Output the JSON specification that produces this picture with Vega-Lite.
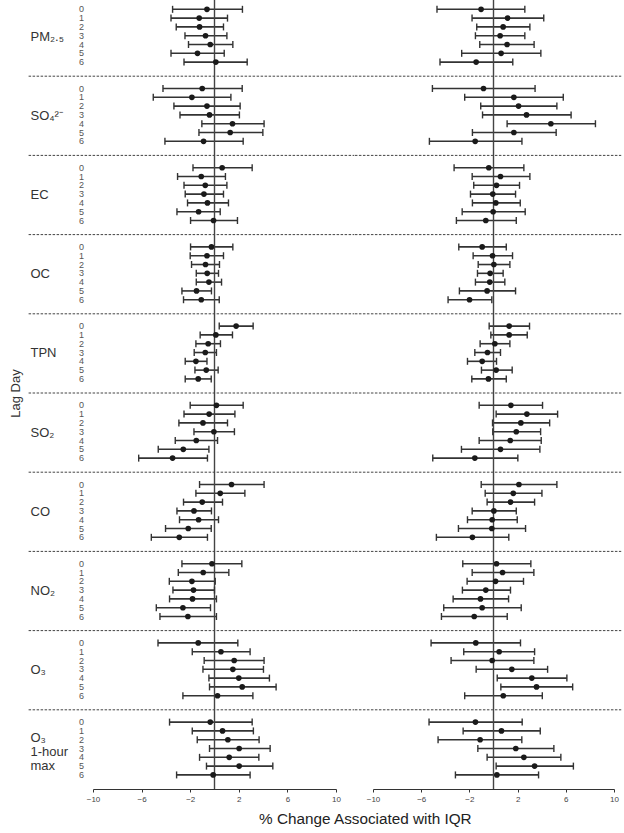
{
  "$schema": "https://vega.github.io/schema/vega-lite/v6.json",
  "padding": {"left": 9, "top": -4, "right": 0, "bottom": 0},
  "bounds": "flush",
  "spacing": 37,
  "config": {
    "font": "Liberation Sans",
    "view": {"stroke": null},
    "axis": {"grid": false},
    "axisX": {"labelOverlap": false, "labelFlush": false, "labelSeparation": -12}
  },
  "title": {"text": "% Change Associated with IQR", "orient": "bottom", "anchor": "middle", "fontSize": 15.3, "fontWeight": "normal", "color": "#222", "offset": 9, "dx": 50},
  "datasets": {
    "seps": [
      {"p": "PM₂.₅"}, {"p": "SO₄²⁻"}, {"p": "EC"}, {"p": "OC"}, {"p": "TPN"},
      {"p": "SO₂"}, {"p": "CO"}, {"p": "NO₂"}, {"p": "O₃"}
    ],
    "a": [
      {"p": "PM₂.₅", "lag": 0, "est": -0.62, "lo": -3.45, "hi": 2.30},
      {"p": "PM₂.₅", "lag": 1, "est": -1.26, "lo": -3.58, "hi": 1.07},
      {"p": "PM₂.₅", "lag": 2, "est": -1.23, "lo": -3.15, "hi": 0.74},
      {"p": "PM₂.₅", "lag": 3, "est": -0.74, "lo": -2.43, "hi": 1.02},
      {"p": "PM₂.₅", "lag": 4, "est": -0.35, "lo": -2.14, "hi": 1.51},
      {"p": "PM₂.₅", "lag": 5, "est": -1.40, "lo": -3.58, "hi": 0.80},
      {"p": "PM₂.₅", "lag": 6, "est": 0.11, "lo": -2.51, "hi": 2.69},
      {"p": "SO₄²⁻", "lag": 0, "est": -1.01, "lo": -4.24, "hi": 2.28},
      {"p": "SO₄²⁻", "lag": 1, "est": -1.86, "lo": -5.04, "hi": 1.35},
      {"p": "SO₄²⁻", "lag": 2, "est": -0.62, "lo": -3.34, "hi": 2.11},
      {"p": "SO₄²⁻", "lag": 3, "est": -0.41, "lo": -2.84, "hi": 2.05},
      {"p": "SO₄²⁻", "lag": 4, "est": 1.48, "lo": -1.04, "hi": 4.08},
      {"p": "SO₄²⁻", "lag": 5, "est": 1.29, "lo": -1.28, "hi": 3.98},
      {"p": "SO₄²⁻", "lag": 6, "est": -0.90, "lo": -4.08, "hi": 2.36},
      {"p": "EC", "lag": 0, "est": 0.63, "lo": -1.77, "hi": 3.10},
      {"p": "EC", "lag": 1, "est": -1.09, "lo": -3.04, "hi": 0.90},
      {"p": "EC", "lag": 2, "est": -0.76, "lo": -2.51, "hi": 1.02},
      {"p": "EC", "lag": 3, "est": -0.87, "lo": -2.41, "hi": 0.74},
      {"p": "EC", "lag": 4, "est": -0.58, "lo": -2.22, "hi": 1.15},
      {"p": "EC", "lag": 5, "est": -1.31, "lo": -3.09, "hi": 0.47},
      {"p": "EC", "lag": 6, "est": -0.08, "lo": -1.97, "hi": 1.89},
      {"p": "OC", "lag": 0, "est": -0.25, "lo": -1.97, "hi": 1.51},
      {"p": "OC", "lag": 1, "est": -0.62, "lo": -2.00, "hi": 0.74},
      {"p": "OC", "lag": 2, "est": -0.74, "lo": -1.89, "hi": 0.41},
      {"p": "OC", "lag": 3, "est": -0.60, "lo": -1.50, "hi": 0.33},
      {"p": "OC", "lag": 4, "est": -0.46, "lo": -1.50, "hi": 0.58},
      {"p": "OC", "lag": 5, "est": -1.48, "lo": -2.68, "hi": -0.25},
      {"p": "OC", "lag": 6, "est": -1.09, "lo": -2.55, "hi": 0.39},
      {"p": "TPN", "lag": 0, "est": 1.78, "lo": 0.39, "hi": 3.18},
      {"p": "TPN", "lag": 1, "est": 0.11, "lo": -1.18, "hi": 1.48},
      {"p": "TPN", "lag": 2, "est": -0.52, "lo": -1.53, "hi": 0.49},
      {"p": "TPN", "lag": 3, "est": -0.76, "lo": -1.67, "hi": 0.16},
      {"p": "TPN", "lag": 4, "est": -1.53, "lo": -2.41, "hi": -0.62},
      {"p": "TPN", "lag": 5, "est": -0.68, "lo": -1.61, "hi": 0.30},
      {"p": "TPN", "lag": 6, "est": -1.34, "lo": -2.41, "hi": -0.27},
      {"p": "SO₂", "lag": 0, "est": 0.16, "lo": -2.00, "hi": 2.36},
      {"p": "SO₂", "lag": 1, "est": -0.44, "lo": -2.51, "hi": 1.68},
      {"p": "SO₂", "lag": 2, "est": -0.95, "lo": -2.93, "hi": 1.07},
      {"p": "SO₂", "lag": 3, "est": -0.05, "lo": -1.69, "hi": 1.64},
      {"p": "SO₂", "lag": 4, "est": -1.50, "lo": -3.23, "hi": 0.25},
      {"p": "SO₂", "lag": 5, "est": -2.57, "lo": -4.63, "hi": -0.46},
      {"p": "SO₂", "lag": 6, "est": -3.45, "lo": -6.24, "hi": -0.58},
      {"p": "CO", "lag": 0, "est": 1.40, "lo": -1.23, "hi": 4.08},
      {"p": "CO", "lag": 1, "est": 0.47, "lo": -1.53, "hi": 2.50},
      {"p": "CO", "lag": 2, "est": -1.01, "lo": -2.55, "hi": 0.66},
      {"p": "CO", "lag": 3, "est": -1.69, "lo": -3.09, "hi": -0.25},
      {"p": "CO", "lag": 4, "est": -1.31, "lo": -2.88, "hi": 0.33},
      {"p": "CO", "lag": 5, "est": -2.16, "lo": -4.03, "hi": -0.27},
      {"p": "CO", "lag": 6, "est": -2.90, "lo": -5.20, "hi": -0.58},
      {"p": "NO₂", "lag": 0, "est": -0.21, "lo": -2.68, "hi": 2.25},
      {"p": "NO₂", "lag": 1, "est": -0.93, "lo": -2.98, "hi": 1.18},
      {"p": "NO₂", "lag": 2, "est": -1.86, "lo": -3.72, "hi": 0.06},
      {"p": "NO₂", "lag": 3, "est": -1.73, "lo": -3.42, "hi": 0.00},
      {"p": "NO₂", "lag": 4, "est": -1.81, "lo": -3.70, "hi": 0.16},
      {"p": "NO₂", "lag": 5, "est": -2.60, "lo": -4.79, "hi": -0.33},
      {"p": "NO₂", "lag": 6, "est": -2.19, "lo": -4.49, "hi": 0.16},
      {"p": "O₃", "lag": 0, "est": -1.34, "lo": -4.65, "hi": 1.92},
      {"p": "O₃", "lag": 1, "est": 0.53, "lo": -1.83, "hi": 2.93},
      {"p": "O₃", "lag": 2, "est": 1.62, "lo": -0.85, "hi": 4.08},
      {"p": "O₃", "lag": 3, "est": 1.51, "lo": -0.95, "hi": 4.03},
      {"p": "O₃", "lag": 4, "est": 2.00, "lo": -0.46, "hi": 4.52},
      {"p": "O₃", "lag": 5, "est": 2.28, "lo": -0.41, "hi": 5.07},
      {"p": "O₃", "lag": 6, "est": 0.25, "lo": -2.60, "hi": 3.16},
      {"p": "O₃ 1-hour max", "lag": 0, "est": -0.35, "lo": -3.70, "hi": 3.10},
      {"p": "O₃ 1-hour max", "lag": 1, "est": 0.66, "lo": -1.83, "hi": 3.20},
      {"p": "O₃ 1-hour max", "lag": 2, "est": 1.10, "lo": -1.42, "hi": 3.67},
      {"p": "O₃ 1-hour max", "lag": 3, "est": 2.03, "lo": -0.41, "hi": 4.58},
      {"p": "O₃ 1-hour max", "lag": 4, "est": 1.21, "lo": -1.23, "hi": 3.65},
      {"p": "O₃ 1-hour max", "lag": 5, "est": 2.03, "lo": -0.66, "hi": 4.80},
      {"p": "O₃ 1-hour max", "lag": 6, "est": -0.11, "lo": -3.12, "hi": 2.93}
    ],
    "b": [
      {"p": "PM₂.₅", "lag": 0, "est": -1.03, "lo": -4.69, "hi": 2.60},
      {"p": "PM₂.₅", "lag": 1, "est": 1.17, "lo": -1.78, "hi": 4.17},
      {"p": "PM₂.₅", "lag": 2, "est": 0.80, "lo": -1.39, "hi": 3.02},
      {"p": "PM₂.₅", "lag": 3, "est": 0.55, "lo": -1.50, "hi": 2.60},
      {"p": "PM₂.₅", "lag": 4, "est": 1.13, "lo": -1.14, "hi": 3.37},
      {"p": "PM₂.₅", "lag": 5, "est": 0.63, "lo": -2.64, "hi": 3.93},
      {"p": "PM₂.₅", "lag": 6, "est": -1.44, "lo": -4.44, "hi": 1.60},
      {"p": "SO₄²⁻", "lag": 0, "est": -0.83, "lo": -5.07, "hi": 3.45},
      {"p": "SO₄²⁻", "lag": 1, "est": 1.69, "lo": -2.39, "hi": 5.79},
      {"p": "SO₄²⁻", "lag": 2, "est": 2.08, "lo": -1.06, "hi": 5.26},
      {"p": "SO₄²⁻", "lag": 3, "est": 2.74, "lo": -0.91, "hi": 6.44},
      {"p": "SO₄²⁻", "lag": 4, "est": 4.76, "lo": 1.13, "hi": 8.46},
      {"p": "SO₄²⁻", "lag": 5, "est": 1.69, "lo": -1.75, "hi": 5.20},
      {"p": "SO₄²⁻", "lag": 6, "est": -1.52, "lo": -5.32, "hi": 2.36},
      {"p": "EC", "lag": 0, "est": -0.39, "lo": -3.27, "hi": 2.52},
      {"p": "EC", "lag": 1, "est": 0.58, "lo": -1.77, "hi": 3.02},
      {"p": "EC", "lag": 2, "est": 0.25, "lo": -1.64, "hi": 2.16},
      {"p": "EC", "lag": 3, "est": -0.06, "lo": -1.91, "hi": 1.83},
      {"p": "EC", "lag": 4, "est": 0.19, "lo": -1.75, "hi": 2.22},
      {"p": "EC", "lag": 5, "est": -0.03, "lo": -2.60, "hi": 2.63},
      {"p": "EC", "lag": 6, "est": -0.64, "lo": -3.08, "hi": 1.89},
      {"p": "OC", "lag": 0, "est": -0.94, "lo": -2.88, "hi": 1.06},
      {"p": "OC", "lag": 1, "est": -0.08, "lo": -1.69, "hi": 1.58},
      {"p": "OC", "lag": 2, "est": 0.03, "lo": -1.27, "hi": 1.36},
      {"p": "OC", "lag": 3, "est": -0.28, "lo": -1.33, "hi": 0.80},
      {"p": "OC", "lag": 4, "est": -0.31, "lo": -1.50, "hi": 0.94},
      {"p": "OC", "lag": 5, "est": -0.53, "lo": -2.83, "hi": 1.83},
      {"p": "OC", "lag": 6, "est": -1.99, "lo": -3.77, "hi": -0.14},
      {"p": "TPN", "lag": 0, "est": 1.30, "lo": -0.36, "hi": 2.99},
      {"p": "TPN", "lag": 1, "est": 1.30, "lo": -0.22, "hi": 2.80},
      {"p": "TPN", "lag": 2, "est": 0.11, "lo": -1.11, "hi": 1.36},
      {"p": "TPN", "lag": 3, "est": -0.50, "lo": -1.55, "hi": 0.58},
      {"p": "TPN", "lag": 4, "est": -0.94, "lo": -2.16, "hi": 0.25},
      {"p": "TPN", "lag": 5, "est": 0.22, "lo": -1.00, "hi": 1.55},
      {"p": "TPN", "lag": 6, "est": -0.42, "lo": -1.80, "hi": 1.06},
      {"p": "SO₂", "lag": 0, "est": 1.44, "lo": -1.19, "hi": 4.07},
      {"p": "SO₂", "lag": 1, "est": 2.77, "lo": 0.22, "hi": 5.32},
      {"p": "SO₂", "lag": 2, "est": 2.27, "lo": -0.08, "hi": 4.66},
      {"p": "SO₂", "lag": 3, "est": 1.89, "lo": -0.06, "hi": 3.91},
      {"p": "SO₂", "lag": 4, "est": 1.39, "lo": -1.19, "hi": 3.96},
      {"p": "SO₂", "lag": 5, "est": 0.58, "lo": -2.66, "hi": 3.85},
      {"p": "SO₂", "lag": 6, "est": -1.55, "lo": -5.04, "hi": 2.02},
      {"p": "CO", "lag": 0, "est": 2.11, "lo": -1.02, "hi": 5.26},
      {"p": "CO", "lag": 1, "est": 1.64, "lo": -0.69, "hi": 4.02},
      {"p": "CO", "lag": 2, "est": 1.41, "lo": -0.53, "hi": 3.41},
      {"p": "CO", "lag": 3, "est": 0.03, "lo": -1.77, "hi": 1.89},
      {"p": "CO", "lag": 4, "est": -0.11, "lo": -2.16, "hi": 1.97},
      {"p": "CO", "lag": 5, "est": -0.14, "lo": -2.91, "hi": 2.66},
      {"p": "CO", "lag": 6, "est": -1.75, "lo": -4.74, "hi": 1.27},
      {"p": "NO₂", "lag": 0, "est": 0.25, "lo": -2.55, "hi": 3.10},
      {"p": "NO₂", "lag": 1, "est": 0.75, "lo": -1.77, "hi": 3.35},
      {"p": "NO₂", "lag": 2, "est": 0.17, "lo": -2.19, "hi": 2.49},
      {"p": "NO₂", "lag": 3, "est": -0.64, "lo": -2.58, "hi": 1.41},
      {"p": "NO₂", "lag": 4, "est": -1.08, "lo": -3.35, "hi": 1.25},
      {"p": "NO₂", "lag": 5, "est": -0.94, "lo": -4.13, "hi": 2.30},
      {"p": "NO₂", "lag": 6, "est": -1.60, "lo": -4.32, "hi": 1.14},
      {"p": "O₃", "lag": 0, "est": -1.47, "lo": -5.18, "hi": 2.24},
      {"p": "O₃", "lag": 1, "est": 0.47, "lo": -2.47, "hi": 3.41},
      {"p": "O₃", "lag": 2, "est": -0.11, "lo": -3.52, "hi": 3.35},
      {"p": "O₃", "lag": 3, "est": 1.52, "lo": -1.44, "hi": 4.49},
      {"p": "O₃", "lag": 4, "est": 3.18, "lo": 0.31, "hi": 6.09},
      {"p": "O₃", "lag": 5, "est": 3.57, "lo": 0.61, "hi": 6.57},
      {"p": "O₃", "lag": 6, "est": 0.81, "lo": -2.39, "hi": 4.05},
      {"p": "O₃ 1-hour max", "lag": 0, "est": -1.50, "lo": -5.35, "hi": 2.38},
      {"p": "O₃ 1-hour max", "lag": 1, "est": 0.66, "lo": -2.52, "hi": 3.88},
      {"p": "O₃ 1-hour max", "lag": 2, "est": -1.11, "lo": -4.60, "hi": 2.35},
      {"p": "O₃ 1-hour max", "lag": 3, "est": 1.85, "lo": -1.30, "hi": 5.01},
      {"p": "O₃ 1-hour max", "lag": 4, "est": 2.52, "lo": -0.53, "hi": 5.59},
      {"p": "O₃ 1-hour max", "lag": 5, "est": 3.41, "lo": 0.22, "hi": 6.63},
      {"p": "O₃ 1-hour max", "lag": 6, "est": 0.28, "lo": -3.16, "hi": 3.74}
    ]
  },
  "hconcat": [
    {
      "width": 243,
      "height": 792,
      "data": {"name": "a"},
      "layer": [
        {
          "mark": {"type": "rule", "strokeWidth": 1.6, "color": "#333"},
          "encoding": {
            "y": {
              "field": "p", "type": "nominal",
              "scale": {"domain": ["PM₂.₅", "SO₄²⁻", "EC", "OC", "TPN", "SO₂", "CO", "NO₂", "O₃", "O₃ 1-hour max"], "paddingInner": 0, "paddingOuter": 0},
              "axis": {
                "title": "Lag Day", "titleFontSize": 13, "titleFontWeight": "normal", "titleColor": "#333", "titlePadding": 8,
                "labelAlign": "left", "labelPadding": 63, "labelFontSize": 13, "labelColor": "#333",
                "labelLineHeight": 14, "labelBound": false, "labelOverlap": false, "labelLimit": 0,
                "labelOffset": {"condition": {"test": "datum.value == 'O₃ 1-hour max'", "value": -11}, "value": 0},
                "labelExpr": "datum.value == 'O₃ 1-hour max' ? ['O₃', '1-hour', 'max'] : datum.value",
                "ticks": false, "domain": false
              }
            },
            "yOffset": {"field": "lag", "type": "ordinal", "scale": {"domain": [0, 1, 2, 3, 4, 5, 6], "paddingInner": 0, "paddingOuter": 1, "align": 0.45}},
            "x": {
              "field": "lo", "type": "quantitative",
              "scale": {"domain": [-10, 10], "nice": false},
              "axis": {"values": [-10, -8, -6, -4, -2, 0, 2, 4, 6, 8, 10], "title": null, "tickSize": 3, "labelFontSize": 8, "labelColor": "#444", "labelPadding": 3, "labelOverlap": false, "labelSeparation": -12, "labelBound": false, "labelFlush": false, "domainColor": "#333", "tickColor": "#333", "domainWidth": 1.2}
            },
            "x2": {"field": "hi"}
          }
        },
        {
          "data": {"name": "seps"},
          "mark": {"type": "rule", "strokeDash": [2.5, 1.5], "strokeWidth": 1, "color": "#444", "clip": false},
          "encoding": {
            "y": {"field": "p", "type": "nominal", "bandPosition": 1},
            "x": {"datum": -15.3, "type": "quantitative"},
            "x2": {"datum": 11.5}
          }
        },
        {
          "data": {"values": [{"z": 0}]},
          "mark": {"type": "rule", "strokeWidth": 1.4, "color": "#444"},
          "encoding": {"x": {"field": "z", "type": "quantitative"}}
        },
        {
          "mark": {"type": "point", "shape": "M0,-1L0,1", "size": 49, "filled": false, "strokeWidth": 1.4, "color": "#333", "opacity": 1},
          "encoding": {
            "y": {"field": "p", "type": "nominal"},
            "yOffset": {"field": "lag", "type": "ordinal"},
            "x": {"field": "lo", "type": "quantitative"}
          }
        },
        {
          "mark": {"type": "point", "shape": "M0,-1L0,1", "size": 49, "filled": false, "strokeWidth": 1.4, "color": "#333", "opacity": 1},
          "encoding": {
            "y": {"field": "p", "type": "nominal"},
            "yOffset": {"field": "lag", "type": "ordinal"},
            "x": {"field": "hi", "type": "quantitative"}
          }
        },
        {
          "mark": {"type": "point", "filled": true, "size": 32, "color": "#1a1a1a", "opacity": 1},
          "encoding": {
            "y": {"field": "p", "type": "nominal"},
            "yOffset": {"field": "lag", "type": "ordinal"},
            "x": {"field": "est", "type": "quantitative"}
          }
        },
        {
          "mark": {"type": "text", "align": "right", "baseline": "middle", "fontSize": 9, "color": "#555", "dx": -9},
          "encoding": {
            "y": {"field": "p", "type": "nominal"},
            "yOffset": {"field": "lag", "type": "ordinal"},
            "x": {"datum": -10, "type": "quantitative"},
            "text": {"field": "lag", "type": "ordinal"}
          }
        }
      ]
    },
    {
      "width": 241,
      "height": 792,
      "data": {"name": "b"},
      "layer": [
        {
          "mark": {"type": "rule", "strokeWidth": 1.6, "color": "#333"},
          "encoding": {
            "y": {
              "field": "p", "type": "nominal",
              "scale": {"domain": ["PM₂.₅", "SO₄²⁻", "EC", "OC", "TPN", "SO₂", "CO", "NO₂", "O₃", "O₃ 1-hour max"], "paddingInner": 0, "paddingOuter": 0},
              "axis": {"labels": false, "ticks": false, "domain": false, "title": null}
            },
            "yOffset": {"field": "lag", "type": "ordinal", "scale": {"domain": [0, 1, 2, 3, 4, 5, 6], "paddingInner": 0, "paddingOuter": 1, "align": 0.45}},
            "x": {
              "field": "lo", "type": "quantitative",
              "scale": {"domain": [-10, 10], "nice": false},
              "axis": {"values": [-10, -8, -6, -4, -2, 0, 2, 4, 6, 8, 10], "title": null, "tickSize": 3, "labelFontSize": 8, "labelColor": "#444", "labelPadding": 3, "labelOverlap": false, "labelSeparation": -12, "labelBound": false, "labelFlush": false, "domainColor": "#333", "tickColor": "#333", "domainWidth": 1.2}
            },
            "x2": {"field": "hi"}
          }
        },
        {
          "data": {"name": "seps"},
          "mark": {"type": "rule", "strokeDash": [2.5, 1.5], "strokeWidth": 1, "color": "#444", "clip": false},
          "encoding": {
            "y": {"field": "p", "type": "nominal", "bandPosition": 1},
            "x": {"datum": -11.5, "type": "quantitative"},
            "x2": {"datum": 10.6}
          }
        },
        {
          "data": {"values": [{"z": 0}]},
          "mark": {"type": "rule", "strokeWidth": 1.4, "color": "#444"},
          "encoding": {"x": {"field": "z", "type": "quantitative"}}
        },
        {
          "mark": {"type": "point", "shape": "M0,-1L0,1", "size": 49, "filled": false, "strokeWidth": 1.4, "color": "#333", "opacity": 1},
          "encoding": {
            "y": {"field": "p", "type": "nominal"},
            "yOffset": {"field": "lag", "type": "ordinal"},
            "x": {"field": "lo", "type": "quantitative"}
          }
        },
        {
          "mark": {"type": "point", "shape": "M0,-1L0,1", "size": 49, "filled": false, "strokeWidth": 1.4, "color": "#333", "opacity": 1},
          "encoding": {
            "y": {"field": "p", "type": "nominal"},
            "yOffset": {"field": "lag", "type": "ordinal"},
            "x": {"field": "hi", "type": "quantitative"}
          }
        },
        {
          "mark": {"type": "point", "filled": true, "size": 32, "color": "#1a1a1a", "opacity": 1},
          "encoding": {
            "y": {"field": "p", "type": "nominal"},
            "yOffset": {"field": "lag", "type": "ordinal"},
            "x": {"field": "est", "type": "quantitative"}
          }
        }
      ]
    }
  ]
}
